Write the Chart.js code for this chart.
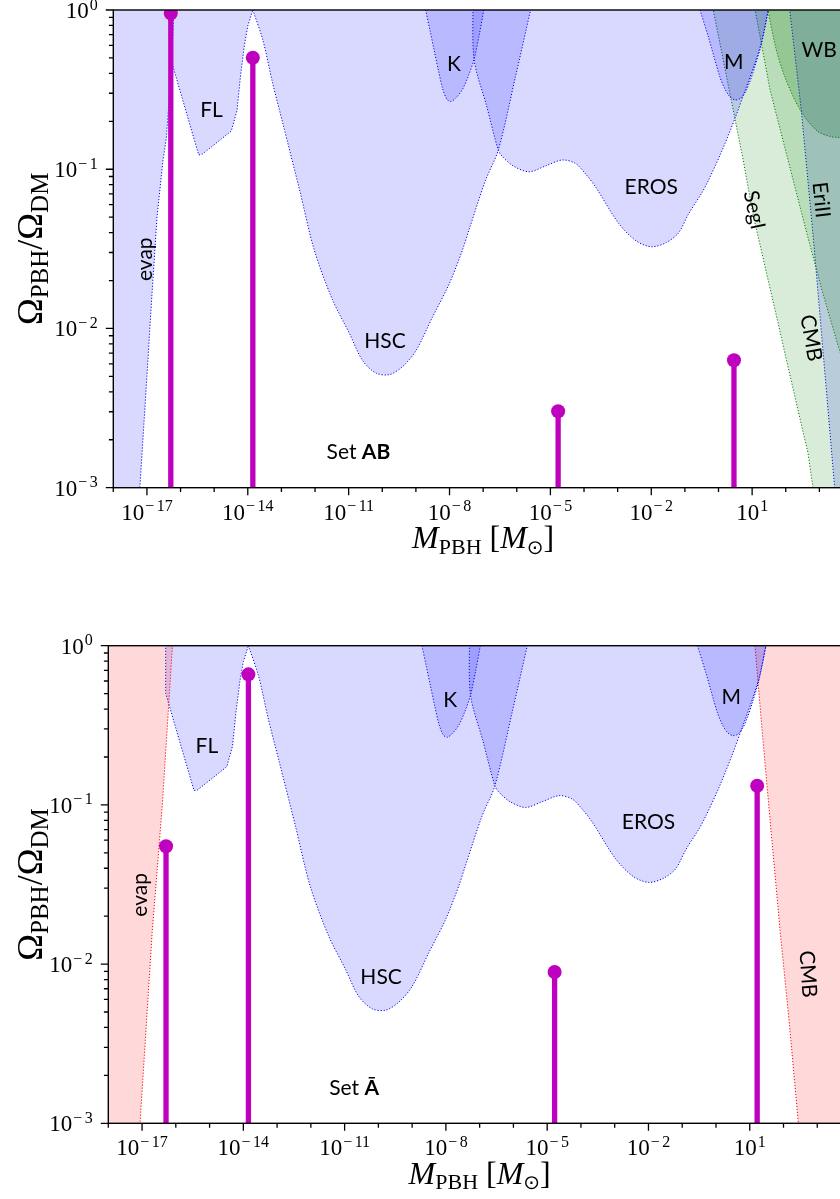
<!DOCTYPE html>
<html>
<head>
<meta charset="utf-8">
<title>PBH constraints</title>
<script src="https://cdn.jsdelivr.net/npm/chart.js@4.4.1/dist/chart.umd.min.js"></script>
<style>
  html, body { margin: 0; padding: 0; background: #fff; overflow: hidden; }
  #wrap { position: relative; width: 840px; height: 1199px; overflow: hidden; }
  canvas { position: absolute; left: 0; }
  #topChart { top: 0; }
  #bottomChart { top: 600px; }
</style>
</head>
<body>
<div id="wrap">
  <canvas id="topChart" width="860" height="600"></canvas>
  <canvas id="bottomChart" width="860" height="599"></canvas>
</div>
<script>
// all curves are stored as log10(M / Msun) and log10(f_PBH)

// femtolensing
const flLogM = [-16.30, -16.30, -15.46, -15.35, -14.49, -14.32, -14.22, -14.10, -14.00, -13.85];
const flLogF = [0.10, -0.30, -0.91, -0.905, -0.76, -0.63, -0.42, -0.22, -0.10, 0.00];

// Subaru HSC
const hscLogM = [-13.85, -13.55, -13.26, -12.96, -12.46, -12.02, -11.48, -10.98, -10.59, -10.19, -9.79, -9.40, -9.00, -8.51, -8.01, -7.62, -7.42, -6.93, -6.55, -6.04, -5.59];
const hscLogF = [0.00, -0.19, -0.46, -0.71, -1.13, -1.51, -1.82, -2.03, -2.20, -2.28, -2.29, -2.24, -2.14, -1.93, -1.72, -1.51, -1.38, -1.07, -0.88, -0.42, 0.00];

// Kepler
const kLogM = [-8.71, -8.58, -8.46, -8.33, -8.21, -8.08, -7.96, -7.80, -7.62, -7.45, -7.27, -7.12, -6.98];
const kLogF = [0.00, -0.13, -0.25, -0.38, -0.49, -0.56, -0.575, -0.55, -0.50, -0.42, -0.31, -0.16, 0.00];

// EROS
const erosLogM = [-7.30, -7.27, -6.90, -6.55, -6.43, -6.10, -5.64, -5.15, -4.65, -4.26, -3.95, -3.66, -2.97, -2.45, -1.99, -1.55, -1.19, -0.89, -0.50, -0.30, 0.09, 0.49, 0.80, 1.08, 1.28, 1.48];
const erosLogF = [0.10, -0.31, -0.60, -0.88, -0.92, -0.98, -1.016, -0.98, -0.942, -0.963, -1.03, -1.11, -1.34, -1.45, -1.487, -1.46, -1.40, -1.28, -1.15, -1.07, -0.89, -0.68, -0.50, -0.335, -0.20, 0.00];

// MACHO
const mLogM = [-0.55, -0.30, 0.04, 0.20, 0.34, 0.50, 0.65, 0.80, 0.95, 1.08, 1.28, 1.48];
const mLogF = [0.00, -0.17, -0.42, -0.50, -0.545, -0.565, -0.555, -0.515, -0.44, -0.356, -0.21, 0.00];

// evaporation, set AB
const evapTopLogM = [-19.0, -17.35, -17.21, -17.00, -16.86, -16.70, -16.52, -16.42, -16.27, -16.20, -16.18];
const evapTopLogF = [-4.0, -3.50, -3.00, -2.30, -1.82, -1.30, -0.94, -0.80, -0.36, 0.00, 0.10];

// dynamical / CMB bounds, set AB
const segLogM = [-0.20, -0.156, 0.378, 0.734, 1.03, 1.238, 1.475, 1.772, 2.068, 2.365, 2.662, 2.81, 3.0, 6.0];
const segLogF = [0.05, 0.00, -0.565, -0.942, -1.288, -1.476, -1.696, -1.966, -2.242, -2.513, -2.783, -3.00, -3.6, -4.0];
const cmbTopLogM = [1.00, 1.089, 1.534, 2.068, 2.602, 3.077, 3.551, 4.20, 6.0];
const cmbTopLogF = [0.10, 0.00, -0.503, -0.942, -1.382, -1.759, -2.104, -2.55, -4.0];
const eriLogM = [2.05, 2.118, 2.462, 2.839, 3.453, 3.60, 6.0];
const eriLogF = [0.10, 0.00, -0.628, -1.476, -2.996, -3.5, -4.0];
const wbLogM = [1.40, 1.47, 1.72, 1.97, 2.27, 2.56, 2.96, 3.35, 3.55, 4.50];
const wbLogF = [0.10, 0.00, -0.251, -0.419, -0.565, -0.670, -0.764, -0.796, -0.80, -0.80];

// evaporation and CMB, set A-bar
const evapBotLogM = [-19.0, -17.20, -17.06, -16.70, -16.40, -16.10, -16.05];
const evapBotLogF = [-4.0, -3.45, -3.00, -1.80, -1.00, 0.00, 0.15];
const cmbBotLogM = [1.10, 1.155, 1.35, 1.60, 1.90, 2.19, 2.44, 2.60, 6.0];
const cmbBotLogF = [0.15, 0.00, -0.49, -1.09, -1.79, -2.41, -3.00, -3.40, -4.0];

// PBH populations (stems)
const topStemLogM = [-16.29, -13.85, -4.77, 0.46];
const topStemLogF = [-0.02, -0.30, -2.52, -2.20];
const botStemLogM = [-16.29, -13.85, -4.78, 1.22];
const botStemLogF = [-1.26, -0.18, -2.05, -0.88];

// axis ticks (exponents)
const xMajorExp = [-17, -14, -11, -8, -5, -2, 1];
const xMinorExp = [-18, -16, -15, -13, -12, -10, -9, -7, -6, -4, -3, -1, 0, 2, 3];
const yMajorExp = [0, -1, -2, -3];
const yMinorMult = [2, 3, 4, 5, 6, 7, 8, 9];

// region labels
const sharedLabels = ['FL', 'K', 'M', 'EROS', 'HSC', 'evap'];
const sharedLabelLogM = [-15.08, -7.87, 0.45, -2.0, -9.92, -17.05];
const sharedLabelLogF = [-0.63, -0.34, -0.325, -1.11, -2.08, -1.565];
const sharedLabelRot = [0, 0, 0, 0, 0, -90];
const topLabels = ['SegI', 'EriII', 'CMB', 'WB'];
const topLabelLogM = [1.06, 3.05, 2.75, 2.99];
const topLabelLogF = [-1.256, -1.193, -2.06, -0.251];
const topLabelRot = [78, 84, 80, 0];
const botLabels = ['CMB'];
const botLabelLogM = [2.72];
const botLabelLogF = [-2.063];
const botLabelRot = [86];

const MAGENTA = '#bf00bf';
const BLUE_FILL = 'rgba(0,0,255,0.15)';
const RED_FILL = 'rgba(255,0,0,0.15)';
const GREEN_FILL = 'rgba(0,128,0,0.15)';
const WB_FILL = 'rgba(0,110,0,0.2)';
const SERIF = '"Liberation Serif", "DejaVu Serif", serif';
const SANS = 'Lato, "DejaVu Sans", sans-serif';

function pts(logM, logF) {
  return logM.map((m, i) => ({ x: Math.pow(10, m), y: Math.pow(10, logF[i]) }));
}

function region(logM, logF, fill, edge, smooth) {
  return {
    data: pts(logM, logF),
    fill: 'end',
    backgroundColor: fill,
    borderColor: edge,
    borderWidth: 1,
    borderDash: [1.2, 1.8],
    pointRadius: 0,
    tension: smooth ? 0.3 : 0,
    order: 1
  };
}

function stems(logM, logF) {
  return logM.map((m, i) => ({
    data: [{ x: Math.pow(10, m), y: 1e-5 }, { x: Math.pow(10, m), y: Math.pow(10, logF[i]) }],
    borderColor: MAGENTA,
    borderWidth: 5.3,
    pointRadius: [0, 7],
    pointBackgroundColor: MAGENTA,
    pointBorderWidth: 0,
    fill: false,
    clip: 0,
    order: 0
  }));
}

function labelItems(text, logM, logF, rot) {
  return text.map((t, i) => ({ parts: [[t, false]], m: logM[i], f: logF[i], rot: rot[i] }));
}

function drawRuns(ctx, runs, x, y) {
  let cx = x;
  runs.forEach(([t, font, dy]) => {
    ctx.font = font;
    ctx.fillText(t, cx, y + (dy || 0));
    cx += ctx.measureText(t).width;
  });
}

function runsWidth(ctx, runs) {
  let w = 0;
  runs.forEach(([t, font]) => { ctx.font = font; w += ctx.measureText(t).width; });
  return w;
}

// "10" with a raised exponent; the minus gets a little extra room
function drawPower(ctx, exp, x, y, align) {
  const base = '23px ' + SERIF, sup = '16px ' + SERIF;
  const neg = exp < 0;
  const digits = String(Math.abs(exp));
  ctx.font = base;
  const wb = ctx.measureText('10').width;
  ctx.font = sup;
  const wm = neg ? ctx.measureText('\u2212').width + 2.5 : 0;
  const wd = ctx.measureText(digits).width;
  const total = wb + 1 + wm + wd;
  const x0 = align === 'center' ? x - total / 2 : x - total;
  ctx.font = base;
  ctx.fillText('10', x0, y);
  ctx.font = sup;
  if (neg) ctx.fillText('\u2212', x0 + wb + 1, y - 8.5);
  ctx.fillText(digits, x0 + wb + 1 + wm, y - 8.5);
}

// spines, ticks, tick labels and axis titles
const axesDecor = {
  id: 'axesDecor',
  afterDraw(chart) {
    const { ctx, chartArea: a, scales: { x, y } } = chart;
    ctx.save();
    ctx.strokeStyle = '#000';
    ctx.fillStyle = '#000';
    ctx.lineWidth = 1.4;
    ctx.strokeRect(a.left, a.top, a.right - a.left, a.bottom - a.top);

    ctx.lineWidth = 1.3;
    ctx.beginPath();
    xMajorExp.forEach(e => {
      const px = x.getPixelForValue(Math.pow(10, e));
      ctx.moveTo(px, a.bottom); ctx.lineTo(px, a.bottom + 7.5);
    });
    xMinorExp.forEach(e => {
      const px = x.getPixelForValue(Math.pow(10, e));
      ctx.moveTo(px, a.bottom); ctx.lineTo(px, a.bottom + 4.4);
    });
    yMajorExp.forEach(e => {
      const py = y.getPixelForValue(Math.pow(10, e));
      ctx.moveTo(a.left, py); ctx.lineTo(a.left - 7.5, py);
    });
    [-3, -2, -1].forEach(e => yMinorMult.forEach(k => {
      const py = y.getPixelForValue(k * Math.pow(10, e));
      ctx.moveTo(a.left, py); ctx.lineTo(a.left - 4.4, py);
    }));
    ctx.stroke();

    ctx.textAlign = 'left';
    ctx.textBaseline = 'alphabetic';
    xMajorExp.forEach(e => {
      drawPower(ctx, e, x.getPixelForValue(Math.pow(10, e)), a.bottom + 32, 'center');
    });
    yMajorExp.forEach(e => {
      drawPower(ctx, e, a.left - 15.5, y.getPixelForValue(Math.pow(10, e)) + 8, 'right');
    });

    const xBig = '32px ' + SERIF, xIt = 'italic 32px ' + SERIF, xSmall = '22px ' + SERIF;
    const xRuns = [['M', xIt], ['PBH', xSmall, 5.5], [' [', xBig], ['M', xIt], ['\u2299', '20px "DejaVu Sans", sans-serif', 5.5], [']', xBig]];
    const cx = (a.left + a.right) / 2;
    drawRuns(ctx, xRuns, cx - runsWidth(ctx, xRuns) / 2, a.bottom + 60.6);

    const yBig = '36px ' + SERIF, ySmall = '25px ' + SERIF;
    const yRuns = [['\u03A9', yBig], ['PBH', ySmall, 6], ['/', yBig], ['\u03A9', yBig], ['DM', ySmall, 6]];
    ctx.translate(42, (a.top + a.bottom) / 2);
    ctx.rotate(-Math.PI / 2);
    drawRuns(ctx, yRuns, -runsWidth(ctx, yRuns) / 2, 0);
    ctx.restore();
  }
};

// region names placed at data coordinates
const regionLabels = {
  id: 'regionLabels',
  afterDatasetsDraw(chart, args, opts) {
    const { ctx, scales: { x, y } } = chart;
    ctx.save();
    ctx.fillStyle = '#000';
    ctx.textBaseline = 'middle';
    ctx.textAlign = 'left';
    opts.items.forEach(it => {
      const px = x.getPixelForValue(Math.pow(10, it.m));
      const py = y.getPixelForValue(Math.pow(10, it.f));
      const runs = it.parts.map(([t, bold]) => [t, (bold ? 'bold ' : '') + '21px ' + SANS]);
      ctx.save();
      ctx.translate(px, py);
      ctx.rotate(it.rot * Math.PI / 180);
      drawRuns(ctx, runs, -runsWidth(ctx, runs) / 2, 0);
      ctx.restore();
    });
    ctx.restore();
  }
};

function makeChart(id, datasets, labels, padding) {
  return new Chart(document.getElementById(id), {
    type: 'line',
    data: { datasets },
    options: {
      responsive: false,
      animation: false,
      events: [],
      layout: { padding },
      elements: { line: { capBezierPoints: false } },
      scales: {
        x: { type: 'logarithmic', min: 1e-18, max: 1e4, display: false },
        y: { type: 'logarithmic', min: 1e-3, max: 1, display: false }
      },
      plugins: {
        legend: { display: false },
        tooltip: { enabled: false },
        regionLabels: { items: labels }
      }
    },
    plugins: [regionLabels, axesDecor]
  });
}

const sharedRegions = () => [
  region(flLogM, flLogF, BLUE_FILL, '#0000ff', false),
  region(hscLogM, hscLogF, BLUE_FILL, '#0000ff', true),
  region(kLogM, kLogF, BLUE_FILL, '#0000ff', true),
  region(erosLogM, erosLogF, BLUE_FILL, '#0000ff', true),
  region(mLogM, mLogF, BLUE_FILL, '#0000ff', true)
];

makeChart('topChart', [
  ...stems(topStemLogM, topStemLogF),
  region(evapTopLogM, evapTopLogF, BLUE_FILL, '#0000ff', false),
  ...sharedRegions(),
  region(segLogM, segLogF, GREEN_FILL, '#008000', false),
  region(cmbTopLogM, cmbTopLogF, GREEN_FILL, '#008000', false),
  region(eriLogM, eriLogF, BLUE_FILL, '#0000ff', false),
  region(wbLogM, wbLogF, WB_FILL, '#008000', true)
], [
  ...labelItems(sharedLabels, sharedLabelLogM, sharedLabelLogF, sharedLabelRot),
  ...labelItems(topLabels, topLabelLogM, topLabelLogF, topLabelRot),
  { parts: [['Set ', false], ['AB', true]], m: -10.71, f: -2.776, rot: 0 }
], { left: 113.3, top: 10, right: 4.9, bottom: 112.3 });

makeChart('bottomChart', [
  ...stems(botStemLogM, botStemLogF),
  region(evapBotLogM, evapBotLogF, RED_FILL, '#ff0000', false),
  ...sharedRegions(),
  region(cmbBotLogM, cmbBotLogF, RED_FILL, '#ff0000', false)
], [
  ...labelItems(sharedLabels, sharedLabelLogM, sharedLabelLogF, sharedLabelRot),
  ...labelItems(botLabels, botLabelLogM, botLabelLogF, botLabelRot),
  { parts: [['Set ', false], ['\u0100', true]], m: -10.72, f: -2.779, rot: 0 }
], { left: 108.3, top: 45.7, right: 8.98, bottom: 75.7 });
</script>
</body>
</html>
